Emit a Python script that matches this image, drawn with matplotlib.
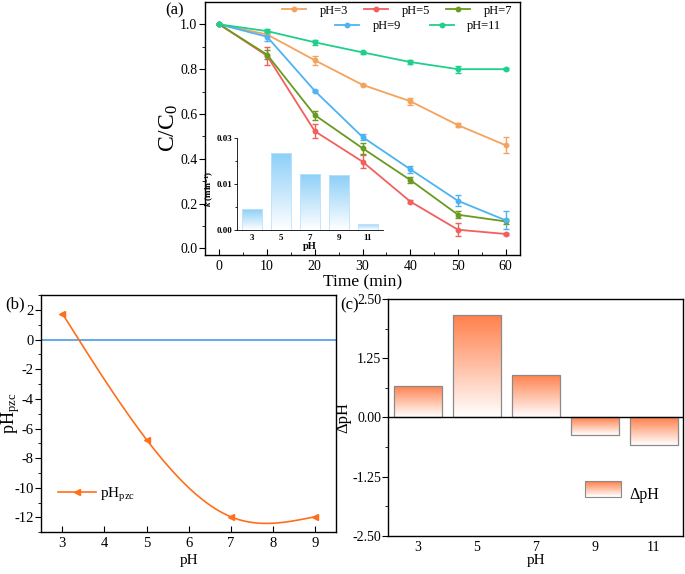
import numpy as np
import matplotlib
matplotlib.use("Agg")
import matplotlib.pyplot as plt
from matplotlib.colors import LinearSegmentedColormap, to_rgb
from matplotlib.legend_handler import HandlerBase
from matplotlib.lines import Line2D
from matplotlib.patches import Rectangle
from matplotlib.ticker import MultipleLocator, FixedLocator

plt.rcParams["font.family"] = ["Liberation Serif", "DejaVu Serif"]
plt.rcParams["mathtext.fontset"] = "custom"
plt.rcParams["mathtext.rm"] = "Liberation Serif"
plt.rcParams["mathtext.it"] = "Liberation Serif:italic"
plt.rcParams["mathtext.bf"] = "Liberation Serif:bold"
plt.rcParams["mathtext.bfit"] = "Liberation Serif:italic:bold"
plt.rcParams["axes.linewidth"] = 1.0
plt.rcParams["axes.unicode_minus"] = False

# ---- (a) degradation curves ----
time = [0, 10, 20, 30, 40, 50, 60]
series_labels = ["pH=3", "pH=5", "pH=7", "pH=9", "pH=11"]
c_ph3 = [1.0, 0.955, 0.84, 0.73, 0.657, 0.55, 0.46]
c_ph5 = [1.0, 0.86, 0.523, 0.387, 0.209, 0.083, 0.064]
c_ph7 = [1.0, 0.865, 0.595, 0.447, 0.305, 0.15, 0.12]
c_ph9 = [1.0, 0.945, 0.703, 0.497, 0.353, 0.212, 0.125]
c_ph11 = [1.0, 0.97, 0.92, 0.875, 0.832, 0.80, 0.80]
err_ph3 = [0, 0.005, 0.02, 0.005, 0.015, 0.008, 0.035]
err_ph5 = [0, 0.04, 0.03, 0.03, 0.005, 0.03, 0.005]
err_ph7 = [0, 0.02, 0.02, 0.025, 0.015, 0.015, 0.01]
err_ph9 = [0, 0.02, 0.005, 0.015, 0.015, 0.025, 0.04]
err_ph11 = [0, 0.008, 0.01, 0.005, 0.008, 0.015, 0.005]
line_colors = ["#F5A35C", "#F2605E", "#6A9A1F", "#4DB3F2", "#1DD08C"]

# inset: rate constants
k_ph = ["3", "5", "7", "9", "11"]
k_vals = [0.0068, 0.0252, 0.0184, 0.0179, 0.0020]

# ---- (b) pH_pzc ----
pzc_ph = [3, 5, 7, 9]
pzc_vals = [1.75, -6.75, -11.95, -11.95]

# ---- (c) delta pH ----
dph_ph = ["3", "5", "7", "9", "11"]
dph_vals = [0.67, 2.16, 0.90, -0.375, -0.59]


def natural_spline(x, y, n=300):
    x = np.asarray(x, float); y = np.asarray(y, float)
    m = len(x); h = np.diff(x)
    A = np.zeros((m, m)); r = np.zeros(m)
    A[0, 0] = A[-1, -1] = 1
    for i in range(1, m - 1):
        A[i, i - 1] = h[i - 1]; A[i, i] = 2 * (h[i - 1] + h[i]); A[i, i + 1] = h[i]
        r[i] = 6 * ((y[i + 1] - y[i]) / h[i] - (y[i] - y[i - 1]) / h[i - 1])
    M = np.linalg.solve(A, r)
    xs = np.linspace(x[0], x[-1], n)
    idx = np.clip(np.searchsorted(x, xs) - 1, 0, m - 2)
    x0, x1 = x[idx], x[idx + 1]; hh = x1 - x0
    ys = (M[idx] * (x1 - xs) ** 3 / (6 * hh) + M[idx + 1] * (xs - x0) ** 3 / (6 * hh)
          + (y[idx] / hh - M[idx] * hh / 6) * (x1 - xs)
          + (y[idx + 1] / hh - M[idx + 1] * hh / 6) * (xs - x0))
    return xs, ys


def gradient_bars(ax, bars, top_color, z=2):
    cmap = LinearSegmentedColormap.from_list("g", ["white", top_color])
    grad = np.linspace(0, 1, 256).reshape(-1, 1)
    for b in bars:
        x, y, w, h = b.get_x(), b.get_y(), b.get_width(), b.get_height()
        y0, y1 = min(y, y + h), max(y, y + h)
        im = ax.imshow(grad, extent=[x, x + w, y0, y1], origin="lower", cmap=cmap,
                       aspect="auto", zorder=z, interpolation="bilinear")
        im.set_clip_path(b)


class GradHandler(HandlerBase):
    def __init__(self, color, edge):
        super().__init__()
        self.color = to_rgb(color); self.edge = edge

    def create_artists(self, legend, orig, xd, yd, w, h, fontsize, trans):
        arts = []
        n = 24
        for i in range(n):
            f = (i + 0.5) / n  # 0 bottom -> 1 top
            c = tuple(1 - f * (1 - cc) for cc in self.color)
            arts.append(Rectangle((xd, yd + h * i / n), w, h / n + 0.3, facecolor=c,
                                  edgecolor="none", transform=trans))
        arts.append(Rectangle((xd, yd), w, h, facecolor="none", edgecolor=self.edge,
                              lw=0.8, transform=trans))
        return arts


fig = plt.figure(figsize=(6.85, 5.74), dpi=100)

# ================= (a) =================
ax = fig.add_axes([0.2993, 0.5557, 0.4599, 0.4408])
all_c = [c_ph3, c_ph5, c_ph7, c_ph9, c_ph11]
all_e = [err_ph3, err_ph5, err_ph7, err_ph9, err_ph11]
handles = []
for c, e, col, lab in zip(all_c, all_e, line_colors, series_labels):
    ax.errorbar(time, c, yerr=e, color=col, marker="o", ms=3.2, lw=1.3,
                elinewidth=1.0, capsize=2, capthick=1.0)
    handles.append(Line2D([], [], color=col, marker="o", ms=3.2, lw=1.3))
ax.set_xlim(-3, 63)
ax.set_ylim(-0.03, 1.1)
ax.xaxis.set_major_locator(MultipleLocator(10))
ax.xaxis.set_minor_locator(MultipleLocator(5))
ax.yaxis.set_major_locator(FixedLocator([0, 0.2, 0.4, 0.6, 0.8, 1.0]))
ax.yaxis.set_minor_locator(FixedLocator(np.arange(0.1, 1.1, 0.2)))
ax.set_yticklabels(["0.0", "0.2", "0.4", "0.6", "0.8", "1.0"])
ax.tick_params(axis="y", which="both", direction="out", labelsize=10, pad=1.5)
ax.tick_params(axis="x", which="both", direction="in", labelsize=10)
ax.tick_params(which="major", length=4)
ax.tick_params(which="minor", length=2.5)
ax.set_xlabel("Time (min)", fontsize=12.5, labelpad=1)
ax.set_ylabel(r"$\mathregular{C/C_0}$", fontsize=17)
ax.yaxis.set_label_coords((180 - 205) / 315, 0.5)
leg1 = ax.legend(handles[:3], series_labels[:3], ncol=3, frameon=False, fontsize=9,
                 loc="upper left", bbox_to_anchor=(0.245, 0.99), handlelength=1.9,
                 handletextpad=1.1, columnspacing=1.3, borderpad=0, borderaxespad=0)
ax.add_artist(leg1)
ax.legend(handles[3:], series_labels[3:], ncol=2, frameon=False, fontsize=9,
          loc="upper left", bbox_to_anchor=(0.413, 0.928), handlelength=1.9,
          handletextpad=1.1, columnspacing=2.3, borderpad=0, borderaxespad=0)
fig.text(165 / 685, 1 - 10 / 574, "(a)", fontsize=12, va="center", ha="left")

# inset
ins = fig.add_axes([0.3467, 0.5993, 0.2117, 0.1603])
ins.patch.set_alpha(0)
xi = np.arange(len(k_ph))
bars = ins.bar(xi, k_vals, width=0.72, facecolor="none", edgecolor="#BFE3FA", lw=0.6, zorder=3)
gradient_bars(ins, bars, "#8CCFF8")
ins.set_xlim(-0.5, 4.5)
ins.set_ylim(0, 0.03)
ins.set_xticks(xi)
ins.set_xticklabels(k_ph, fontweight="bold", fontsize=6.5)
ins.set_yticks([0, 0.015, 0.03])
ins.set_yticklabels(["0.00", "0.01", "0.03"], fontweight="bold", fontsize=6.5)
ins.yaxis.set_minor_locator(MultipleLocator(0.0075))
ins.tick_params(axis="x", length=0, pad=3)
ins.tick_params(axis="y", which="major", direction="out", length=2.5, width=0.6, pad=1)
ins.tick_params(axis="y", which="minor", direction="out", length=1.5, width=0.6)
for s in ["top", "right"]:
    ins.spines[s].set_visible(False)
for s in ["left", "bottom"]:
    ins.spines[s].set_linewidth(0.6)
ins.set_xlabel("pH", fontweight="bold", fontsize=7.5, labelpad=0)
ins.set_ylabel(r"$\mathbfit{k}$ $\mathbf{(min^{-1})}$", fontsize=6.5)
ins.yaxis.set_label_coords((216 - 237.5) / 145, 0.45)

# ================= (b) =================
axb = fig.add_axes([0.0603, 0.0726, 0.4302, 0.4134])
axb.axhline(0, color="#4A9BE0", lw=1.2, zorder=1)
xs, ys = natural_spline(pzc_ph, pzc_vals)
orange = "#FF6F1A"
axb.plot(xs, ys, color=orange, lw=1.2, zorder=2)
axb.plot(pzc_ph, pzc_vals, ls="none", marker="<", ms=5, color=orange, zorder=3)
pzc_handle = Line2D([], [], color=orange, lw=1.2, marker="<", ms=5)
axb.set_xlim(2.5, 9.5)
axb.set_ylim(-13, 3)
axb.xaxis.set_major_locator(MultipleLocator(1))
axb.yaxis.set_major_locator(MultipleLocator(2))
axb.yaxis.set_minor_locator(MultipleLocator(1))
axb.tick_params(axis="y", which="both", direction="out", labelsize=10.5, pad=1.5)
axb.tick_params(axis="x", which="both", direction="in", labelsize=10.5)
axb.tick_params(which="major", length=4)
axb.tick_params(which="minor", length=2.5)
axb.set_xlabel("pH", fontsize=11, labelpad=3)
axb.set_ylabel(r"$\mathregular{pH_{pzc}}$", fontsize=13)
axb.yaxis.set_label_coords((22 - 41.3) / 294.7, 0.5)
axb.legend([pzc_handle], [r"$\mathregular{pH_{pzc}}$"], loc="lower left",
           bbox_to_anchor=(0.055, 0.12), frameon=False, fontsize=11,
           handlelength=2.5, handletextpad=0.3, borderpad=0, borderaxespad=0)
fig.text(5 / 685, 1 - 304 / 574, "(b)", fontsize=12, va="center", ha="left")

# ================= (c) =================
axc = fig.add_axes([0.5669, 0.0662, 0.4307, 0.4129])
xc = np.arange(len(dph_ph))
cbars = axc.bar(xc, dph_vals, width=0.81, facecolor="none", edgecolor="#8A8A8A", lw=0.9, zorder=3)
gradient_bars(axc, cbars, "#FF7F4A")
axc.axhline(0, color="black", lw=1.0, zorder=4)
axc.set_xlim(-0.5, 4.5)
axc.set_ylim(-2.5, 2.5)
axc.set_xticks(xc)
axc.set_xticklabels(dph_ph)
axc.set_yticks([-2.5, -1.25, 0, 1.25, 2.5])
axc.set_yticklabels(["-2.50", "-1.25", "0.00", "1.25", "2.50"])
axc.yaxis.set_minor_locator(MultipleLocator(0.625))
axc.tick_params(axis="y", which="both", direction="out", labelsize=10, pad=1)
axc.tick_params(axis="x", which="both", direction="in", length=0, labelsize=10)
axc.tick_params(axis="y", which="major", length=4)
axc.tick_params(axis="y", which="minor", length=2.5)
axc.set_xlabel("pH", fontsize=11, labelpad=0)
axc.set_ylabel("ΔpH", fontsize=12)
axc.yaxis.set_label_coords((351 - 388.3) / 295, 0.5)
proxy = Rectangle((0, 0), 1, 1)
axc.legend([proxy], ["ΔpH"], handler_map={proxy: GradHandler("#FF7F4A", "#8A8A8A")},
           loc="lower left", bbox_to_anchor=(0.665, 0.14), frameon=False, fontsize=11.5,
           handlelength=2.3, handleheight=1.1, handletextpad=0.5, borderpad=0, borderaxespad=0)
fig.text(340 / 685, 1 - 305 / 574, "(c)", fontsize=12, va="center", ha="left")

fig.savefig("out.png", dpi=100)
